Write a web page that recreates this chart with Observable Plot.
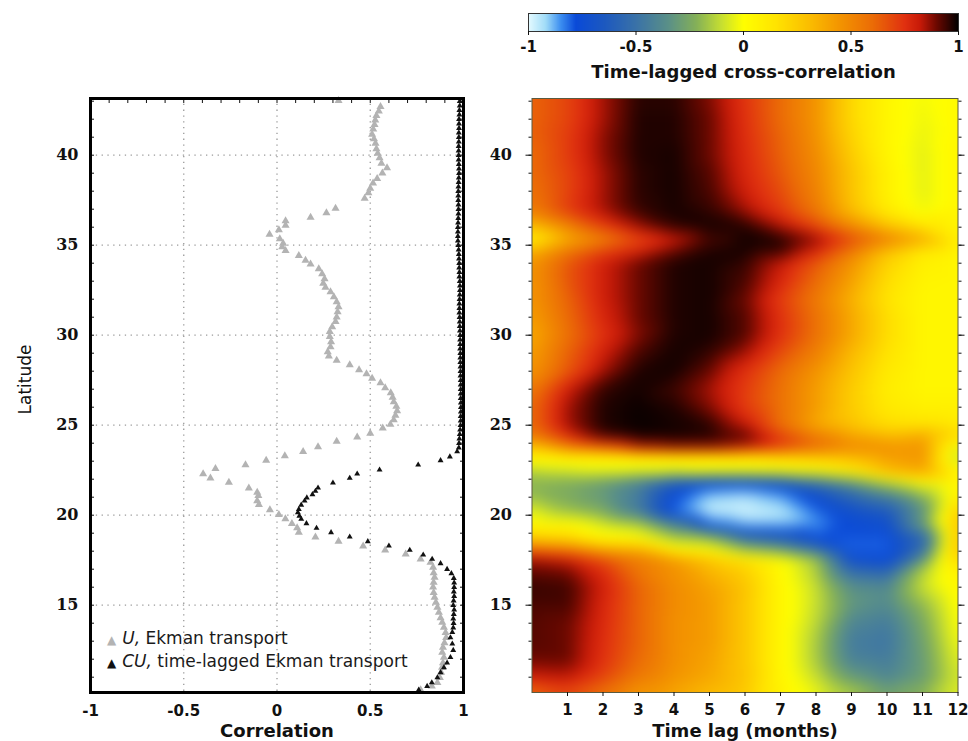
<!DOCTYPE html>
<html><head><meta charset="utf-8">
<script src="https://cdn.jsdelivr.net/npm/d3@7"></script>
<script src="https://cdn.jsdelivr.net/npm/@observablehq/plot@0.6"></script>
<style>
body{margin:0;background:#fff;}
#root{position:relative;width:968px;height:741px;overflow:hidden;font-family:"DejaVu Sans";}
.p{position:absolute;}
.legend{position:absolute;left:107px;top:628px;font-size:17px;line-height:21px;color:#1a1a1a;font-family:"DejaVu Sans";white-space:nowrap;}
.legend .g{color:#b3b3b3;font-size:12px;margin-right:6px;}
.legend .k{color:#111;font-size:12px;margin-right:6px;}
</style></head><body><div id="root"></div>
<script>
// ---------- tick labels ----------
const corrTicks = [-1, -0.5, 0, 0.5, 1];
const corrMinor = [-0.9,-0.8,-0.7,-0.6,-0.5,-0.4,-0.3,-0.2,-0.1,0,0.1,0.2,0.3,0.4,0.5,0.6,0.7,0.8,0.9];
const latTicks = [15, 20, 25, 30, 35, 40];
const latMinor = [11,12,13,14,15,16,17,18,19,20,21,22,23,24,25,26,27,28,29,30,31,32,33,34,35,36,37,38,39,40,41,42,43];
const lagTicks = [1,2,3,4,5,6,7,8,9,10,11,12];

// ---------- U, Ekman transport (grey triangles) ----------
const uLat = [43.03,42.7,42.45,42.2,41.95,41.7,41.45,41.15,40.9,40.65,
  40.35,40.1,39.85,39.55,39.3,39.0,38.7,38.45,38.15,37.9,
  37.6,37.05,36.8,36.55,36.35,36.1,35.85,35.6,35.35,35.1,
  34.9,34.7,34.42,34.15,33.95,33.68,33.4,33.13,32.88,32.65,
  32.4,32.12,31.85,31.57,31.3,31.0,30.75,30.46,30.2,29.92,
  29.63,29.35,29.07,28.83,28.6,28.35,28.07,27.85,27.6,27.35,
  27.07,26.8,26.55,26.3,26.05,25.8,25.55,25.3,25.05,24.83,
  24.55,24.33,24.1,23.8,23.53,23.3,23.04,22.8,22.58,22.3,
  22.06,21.82,21.5,21.27,21.08,20.8,20.58,20.3,20.03,19.79,
  19.53,19.3,19.05,18.78,18.54,18.28,18.06,17.84,17.56,17.37,
  17.1,16.8,16.55,16.27,16.0,15.7,15.43,15.15,14.87,14.6,
  14.3,14.04,13.76,13.48,13.2,12.9,12.65,12.37,12.1,11.8,
  11.54,11.26,10.98,10.7,10.5,10.3];
const uCorr = [0.33,0.555,0.546,0.533,0.527,0.523,0.516,0.51,0.52,0.528,
  0.533,0.54,0.55,0.56,0.59,0.565,0.537,0.515,0.5,0.49,
  0.47,0.314,0.265,0.18,0.046,0.046,0.01,-0.04,0.015,0.033,
  0.028,0.046,0.117,0.153,0.18,0.224,0.242,0.255,0.248,0.26,
  0.287,0.305,0.32,0.33,0.325,0.32,0.314,0.296,0.283,0.283,
  0.29,0.287,0.272,0.278,0.32,0.39,0.44,0.48,0.51,0.555,
  0.58,0.61,0.62,0.626,0.64,0.644,0.635,0.626,0.608,0.567,
  0.5,0.43,0.32,0.22,0.14,0.042,-0.058,-0.169,-0.33,-0.396,
  -0.357,-0.258,-0.151,-0.106,-0.1,-0.106,-0.097,-0.038,0.01,0.045,
  0.08,0.108,0.117,0.206,0.33,0.462,0.58,0.69,0.77,0.823,
  0.837,0.84,0.845,0.84,0.837,0.84,0.845,0.852,0.86,0.868,
  0.877,0.886,0.895,0.904,0.907,0.898,0.89,0.886,0.895,0.89,
  0.885,0.88,0.873,0.86,0.83,0.77];

// ---------- CU, time-lagged Ekman transport (black triangles) ----------
const cuLat = [43,42.75,42.5,42.25,42,41.75,41.5,41.25,41,40.75,
  40.5,40.25,40,39.75,39.5,39.25,39,38.75,38.5,38.25,
  38,37.75,37.5,37.25,37,36.75,36.5,36.25,36,35.75,
  35.5,35.25,35,34.75,34.5,34.25,34,33.75,33.5,33.25,
  33,32.75,32.5,32.25,32,31.75,31.5,31.25,31,30.75,
  30.5,30.25,30,29.75,29.5,29.25,29,28.75,28.5,28.25,
  28,27.75,27.5,27.25,27,26.75,26.5,26.25,26,25.75,
  25.5,25.25,25,24.75,24.5,24.25,24,
  23.75,23.53,23.25,23.04,22.8,22.52,22.3,22.06,21.8,21.52,
  21.34,21.15,20.97,20.8,20.57,20.33,20.15,19.96,19.78,19.54,
  19.28,19.04,18.8,18.54,18.3,18.06,17.8,17.56,17.32,17.0,
  16.76,16.5,16.25,16.0,15.75,15.5,15.25,15.0,14.75,14.5,
  14.25,14.0,13.75,13.5,13.2,12.85,12.5,12.1,11.8,11.54,
  11.26,10.98,10.7,10.5,10.3];
const cuCorr = [0.98,0.98,0.978,0.978,0.976,0.976,0.976,0.975,0.975,0.975,
  0.974,0.974,0.974,0.974,0.975,0.976,0.976,0.975,0.974,0.973,
  0.972,0.972,0.972,0.973,0.973,0.973,0.972,0.971,0.97,0.97,
  0.97,0.97,0.972,0.974,0.975,0.976,0.977,0.977,0.978,0.978,
  0.98,0.981,0.981,0.98,0.979,0.978,0.978,0.978,0.979,0.98,
  0.98,0.981,0.982,0.982,0.982,0.982,0.983,0.983,0.983,0.984,
  0.984,0.984,0.985,0.985,0.985,0.985,0.985,0.986,0.986,0.986,
  0.985,0.985,0.984,0.982,0.98,0.978,0.976,
  0.975,0.966,0.927,0.877,0.757,0.55,0.43,0.39,0.3,0.22,
  0.206,0.19,0.16,0.148,0.13,0.117,0.112,0.12,0.13,0.158,
  0.212,0.29,0.39,0.487,0.6,0.712,0.784,0.832,0.877,0.912,
  0.935,0.948,0.95,0.95,0.948,0.95,0.947,0.945,0.95,0.948,
  0.945,0.947,0.945,0.94,0.93,0.94,0.945,0.93,0.912,0.895,
  0.877,0.86,0.83,0.805,0.76];

// ---------- time-lagged cross-correlation grid ----------
const lags = [0,1,2,3,4,5,6,7,8,9,10,11,12];
const heatLats = [10,11,12,13,14,15,16,17,17.5,18,18.7,19.5,20.2,21.15,21.9,22.45,22.8,23.2,23.7,24.4,
  25,26,27,28,29,30,31,32,33,34,34.7,35.3,36,37,38,39,40,41,42,43.2];
const heatValues = [
  [0.55,0.65,0.55,0.42,0.38,0.3,0.25,0.08,-0.02,-0.12,-0.25,-0.2,-0.05],
  [0.8,0.82,0.7,0.55,0.45,0.38,0.28,0.06,-0.1,-0.3,-0.4,-0.3,-0.08],
  [0.9,0.9,0.75,0.6,0.47,0.4,0.27,0.05,-0.15,-0.42,-0.45,-0.3,-0.05],
  [0.92,0.9,0.76,0.62,0.47,0.42,0.27,0.05,-0.15,-0.45,-0.48,-0.28,-0.02],
  [0.92,0.9,0.77,0.62,0.47,0.42,0.27,0.05,-0.12,-0.4,-0.45,-0.25,0],
  [0.93,0.93,0.78,0.62,0.48,0.42,0.27,0.05,-0.1,-0.32,-0.38,-0.2,0.02],
  [0.95,0.94,0.8,0.62,0.48,0.4,0.28,0.05,-0.1,-0.35,-0.38,-0.1,0.05],
  [0.9,0.88,0.75,0.55,0.45,0.32,0.22,0.03,-0.15,-0.55,-0.6,-0.15,0.08],
  [0.85,0.8,0.68,0.55,0.45,0.3,0.18,0.04,-0.15,-0.72,-0.78,-0.35,0.2],
  [0.65,0.6,0.45,0.4,0.12,0.05,-0.15,-0.25,-0.45,-0.8,-0.8,-0.5,0.3],
  [0.25,0.2,0.05,0.02,-0.15,-0.2,-0.5,-0.6,-0.78,-0.8,-0.8,-0.6,0.3],
  [0.05,0.05,-0.08,-0.15,-0.42,-0.8,-0.9,-0.9,-0.86,-0.76,-0.72,-0.3,0.3],
  [-0.05,-0.18,-0.25,-0.45,-0.82,-0.97,-0.98,-0.95,-0.82,-0.72,-0.65,-0.35,0.25],
  [-0.2,-0.25,-0.32,-0.45,-0.75,-0.9,-0.93,-0.86,-0.72,-0.55,-0.4,-0.2,0.1],
  [-0.2,-0.22,-0.28,-0.4,-0.58,-0.65,-0.65,-0.6,-0.45,-0.3,-0.1,0.05,0.05],
  [-0.15,-0.1,-0.05,-0.05,-0.05,0.0,0.0,0.02,0.05,0.15,0.35,0.42,0.05],
  [0.0,0.02,0.02,0.02,0.02,0.02,0.03,0.06,0.1,0.2,0.35,0.4,0.0],
  [0.06,0.06,0.06,0.06,0.08,0.08,0.1,0.18,0.25,0.3,0.4,0.45,-0.15],
  [0.25,0.5,0.6,0.8,0.85,0.85,0.78,0.7,0.6,0.5,0.48,0.45,-0.05],
  [0.55,0.75,0.93,0.98,0.98,0.97,0.93,0.72,0.55,0.4,0.32,0.4,0.2],
  [0.6,0.85,0.97,0.99,0.98,0.96,0.82,0.58,0.38,0.28,0.18,0.15,0.1],
  [0.6,0.85,0.97,0.99,0.97,0.88,0.72,0.58,0.42,0.25,0.12,0.08,0.08],
  [0.55,0.8,0.95,0.98,0.94,0.85,0.72,0.58,0.42,0.25,0.1,0.05,0.05],
  [0.45,0.65,0.85,0.97,0.98,0.9,0.75,0.6,0.45,0.28,0.12,0.05,0.05],
  [0.42,0.62,0.8,0.93,0.98,0.95,0.85,0.68,0.52,0.32,0.15,0.05,0.05],
  [0.38,0.58,0.75,0.88,0.97,0.98,0.92,0.75,0.58,0.38,0.18,0.05,0.05],
  [0.42,0.6,0.78,0.9,0.97,0.98,0.92,0.75,0.58,0.38,0.18,0.05,0.05],
  [0.45,0.62,0.8,0.9,0.97,0.98,0.9,0.72,0.55,0.35,0.15,0.05,0.05],
  [0.45,0.65,0.8,0.9,0.97,0.98,0.93,0.78,0.6,0.4,0.18,0.06,0.05],
  [0.45,0.65,0.8,0.9,0.97,0.98,0.95,0.82,0.65,0.45,0.22,0.08,0.05],
  [0.35,0.55,0.7,0.78,0.9,0.97,0.98,0.95,0.78,0.55,0.3,0.12,0.05],
  [0.05,0.35,0.5,0.68,0.8,0.93,0.98,0.97,0.88,0.7,0.55,0.4,0.1],
  [0.3,0.5,0.7,0.85,0.95,0.98,0.97,0.85,0.7,0.5,0.3,0.15,0.05],
  [0.55,0.72,0.85,0.95,0.98,0.95,0.85,0.72,0.55,0.3,0.1,-0.03,0.05],
  [0.58,0.7,0.85,0.96,0.98,0.93,0.8,0.68,0.52,0.28,0.08,-0.05,0.05],
  [0.6,0.7,0.85,0.96,0.98,0.92,0.78,0.65,0.5,0.28,0.08,-0.05,0.05],
  [0.6,0.72,0.87,0.97,0.98,0.9,0.77,0.63,0.48,0.25,0.06,-0.05,0.05],
  [0.62,0.72,0.87,0.97,0.97,0.9,0.76,0.62,0.46,0.22,0.05,-0.04,0.04],
  [0.62,0.7,0.85,0.97,0.97,0.9,0.75,0.6,0.45,0.2,0.05,-0.03,0.03],
  [0.62,0.7,0.85,0.96,0.96,0.88,0.74,0.6,0.45,0.2,0.05,-0.02,0.03]
];

// ---------- colour ramp ----------
const colorStops = [-1,-0.92,-0.85,-0.78,-0.65,-0.5,-0.35,-0.22,-0.1,0,0.15,0.3,0.45,0.6,0.75,0.82,0.9,1];
const colorHex = ["#e4faff","#a0dcf8","#3c8ef0","#0a4ad8","#1c58c0","#3a72a8","#5a9088","#84b058","#c8e030",
  "#ffff00","#ffe400","#fbbf00","#f39400","#eb6c06","#e03010","#c81a08","#6a0800","#000000"];

// ---------- build tables ----------
const uData = uLat.map((lat, i) => ({lat, corr: uCorr[i]}));
const cuData = cuLat.map((lat, i) => ({lat, corr: cuCorr[i]}));
const heat = heatLats.flatMap((lat, i) => lags.map((lag, j) => ({lag, lat, value: heatValues[i][j]})));

const colorScale = {type: "linear", domain: colorStops, range: colorHex, interpolate: "rgb", clamp: true};
const baseStyle = {background: "transparent", overflow: "visible", fontFamily: "DejaVu Sans", fontSize: "15px", fontWeight: "bold", color: "#111"};
const latDomain = [10.15, 43.15];
const fmt = d => String(d);
const blank = () => "";

const root = document.getElementById("root");
function place(el, left, top) {
  const d = document.createElement("div");
  d.className = "p"; d.style.left = left + "px"; d.style.top = top + "px";
  d.append(el); root.append(d);
}

// ---------- colour bar ----------
const bar = Plot.plot({
  width: 488, height: 90,
  marginLeft: 48, marginRight: 10, marginTop: 13, marginBottom: 59,
  style: baseStyle,
  x: {domain: [-1, 1]},
  y: {domain: [0, 1], axis: null},
  color: colorScale,
  marks: [
    Plot.raster({fill: (x, y) => x, x1: -1, x2: 1, y1: 0, y2: 1}),
    Plot.frame({stroke: "#333", strokeWidth: 1}),
    Plot.axisX(corrTicks, {tickSize: 4, tickPadding: 6, tickFormat: fmt, label: null, fontSize: 15}),
    Plot.text(["Time-lagged cross-correlation"], {text: d => d, frameAnchor: "bottom", dy: 40.5, textAnchor: "middle", lineAnchor: "middle", fontSize: 18, fontWeight: "bold"})
  ]
});
place(bar, 480, 0);

// ---------- left panel ----------
const gridStyle = {stroke: "#9a9a9a", strokeOpacity: 1, strokeWidth: 1.3, strokeDasharray: "1.3,4.5"};
const left = Plot.plot({
  width: 480, height: 661,
  marginLeft: 90, marginRight: 17, marginTop: 18, marginBottom: 49,
  style: baseStyle,
  x: {domain: [-1, 1]},
  y: {domain: latDomain},
  marks: [
    Plot.gridX([-0.5, 0, 0.5], gridStyle),
    Plot.gridY(latTicks, gridStyle),
    Plot.dot(uData, {x: "corr", y: "lat", symbol: "triangle", r: 3, fill: "#b3b3b3"}),
    Plot.dot(cuData, {x: "corr", y: "lat", symbol: "triangle", r: 2.2, fill: "#111"}),
    Plot.axisX(corrTicks, {tickSize: 0, tickPadding: 13, tickFormat: fmt, label: null, fontSize: 15}),
    Plot.axisX(corrMinor, {anchor: "top", tickSize: 4, insetTop: 4, tickFormat: blank, label: null}),
    Plot.axisY(latTicks, {tickSize: 0, tickPadding: 12, fontFamily: "DejaVu Serif", fontWeight: "bold", fontSize: 16, label: null}),
    Plot.axisY(latMinor, {anchor: "left", tickSize: 4, insetLeft: 4, tickFormat: blank, label: null}),
    Plot.axisY(latMinor, {anchor: "right", tickSize: 4, insetRight: 4, tickFormat: blank, label: null}),
    Plot.frame({stroke: "#000", strokeWidth: 3}),
    Plot.text(["Correlation"], {text: d => d, frameAnchor: "bottom", dy: 39, textAnchor: "middle", lineAnchor: "middle", fontSize: 18, fontWeight: "bold"}),
    Plot.text(["Latitude"], {text: d => d, frameAnchor: "left", dx: -65, dy: -16, rotate: -90, textAnchor: "middle", lineAnchor: "middle", fontSize: 17, fontWeight: "normal"})
  ]
});
place(left, 0, 80);

const lg = document.createElement("div");
lg.className = "legend";
lg.innerHTML = '<div><span class="g">\u25B2</span><i>U,</i> Ekman transport</div>' +
               '<div><span class="k">\u25B2</span><i>CU,</i> time-lagged Ekman transport</div>';
root.append(lg);

// ---------- right panel ----------
const right = Plot.plot({
  width: 488, height: 661,
  marginLeft: 51.5, marginRight: 10.5, marginTop: 18, marginBottom: 49,
  style: baseStyle,
  x: {domain: [0, 12]},
  y: {domain: latDomain},
  color: colorScale,
  marks: [
    Plot.raster(heat, {x: "lag", y: "lat", fill: "value", interpolate: "barycentric", blur: 6}),
    Plot.frame({stroke: "#5a5a40", strokeWidth: 1}),
    Plot.axisX(lagTicks, {tickSize: 4, tickPadding: 8, tickFormat: fmt, label: null, fontSize: 15}),
    Plot.axisY(latTicks, {tickSize: 6, tickPadding: 14, fontFamily: "DejaVu Serif", fontWeight: "bold", fontSize: 16, label: null}),
    Plot.axisY(latMinor, {anchor: "left", tickSize: 3, tickFormat: blank, label: null}),
    Plot.axisY(latTicks, {anchor: "right", tickSize: 6, tickFormat: blank, label: null}),
    Plot.axisY(latMinor, {anchor: "right", tickSize: 3, tickFormat: blank, label: null}),
    Plot.text(["Time lag (months)"], {text: d => d, frameAnchor: "bottom", dy: 39, textAnchor: "middle", lineAnchor: "middle", fontSize: 18, fontWeight: "bold"})
  ]
});
place(right, 480, 80);
</script></body></html>
